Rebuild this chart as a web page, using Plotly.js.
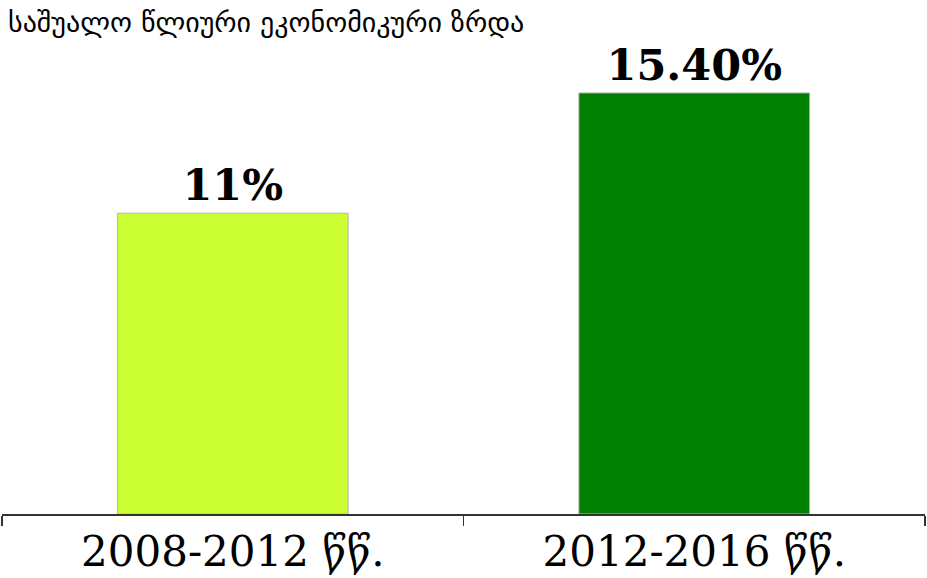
<!DOCTYPE html>
<html>
<head>
<meta charset="utf-8">
<script src="https://cdn.plot.ly/plotly-3.0.1.min.js"></script>
<style>html,body{margin:0;padding:0;background:#fff;}#chart{width:927px;height:578px;}</style>
</head>
<body>
<div id="chart"></div>
<script>
const categories = ["2008-2012 წწ.", "2012-2016 წწ."];
const values = [11, 15.4];
const valueLabels = ["11%", "15.40%"];
const barColors = ["#ccff33", "#008000"];
const chartTitle = "საშუალო წლიური ეკონომიკური ზრდა";

const trace = {
  type: "bar",
  x: categories,
  y: values,
  text: valueLabels,
  textposition: "outside",
  cliponaxis: false,
  textfont: {family: "DejaVu Serif", size: 43, color: "#000", weight: "bold"},
  marker: {color: barColors, line: {color: "#b5b5b5", width: 1}},
  hoverinfo: "none"
};

const layout = {
  width: 927, height: 578,
  margin: {l: 2, r: 2, t: 50, b: 64, pad: 0},
  paper_bgcolor: "#fff", plot_bgcolor: "#fff",
  bargap: 0.5,
  showlegend: false,
  title: {
    text: chartTitle,
    font: {family: "DejaVu Sans", size: 28, color: "#000"},
    xref: "container", x: 8/927, xanchor: "left",
    yref: "container", y: 1 - 22/578, yanchor: "middle"
  },
  xaxis: {
    type: "category",
    range: [-0.5, 1.5],
    showline: true, linecolor: "#333", linewidth: 1.5,
    ticks: "outside", tickson: "boundaries", ticklen: 10, tickcolor: "#333", tickwidth: 1.5,
    tickfont: {family: "DejaVu Serif", size: 42, color: "#000"},
    showgrid: false, zeroline: false
  },
  yaxis: {
    range: [0, 16.97],
    visible: false, showgrid: false, zeroline: false
  }
};

Plotly.newPlot("chart", [trace], layout, {displayModeBar: false, staticPlot: true});
</script>
</body>
</html>
